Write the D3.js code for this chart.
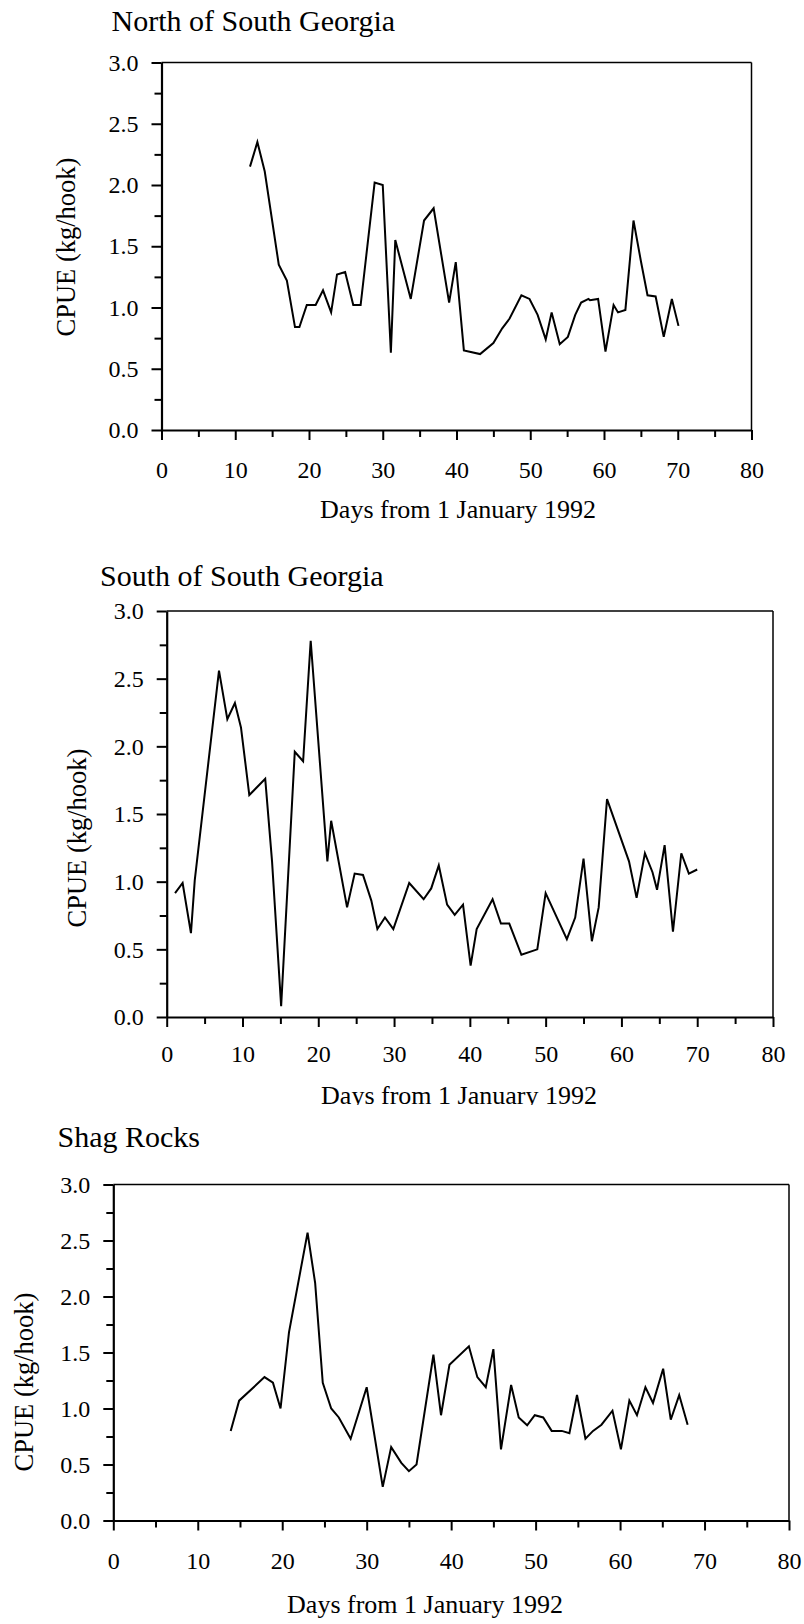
<!DOCTYPE html>
<html>
<head>
<meta charset="utf-8">
<script src="https://cdn.jsdelivr.net/npm/d3@7"></script>
<style>
  body { margin: 0; background: #fff; }
  svg { display: block; }
  text { font-family: 'Liberation Serif', 'Times New Roman', serif; fill: #000; }
</style>
</head>
<body>
<div id="chart"></div>
<script>
// CPUE by day
let northData = [
  [12, 2.15], [13, 2.35], [14, 2.11], [15.9, 1.35], [17, 1.22], [18.1, 0.84], [18.7, 0.84],
  [19.7, 1.02], [20.9, 1.02], [21.9, 1.14], [23, 0.96], [23.8, 1.27], [24.9, 1.29],
  [26, 1.02], [27, 1.02], [28.9, 2.02], [30, 2.0], [31.1, 0.63], [31.7, 1.55],
  [33.8, 1.07], [35.6, 1.71], [36.9, 1.81], [39, 1.04], [39.9, 1.37], [41, 0.65],
  [43.2, 0.62], [45, 0.71], [46.2, 0.83], [47.2, 0.91], [48.8, 1.1], [49.9, 1.07],
  [51, 0.94], [52.1, 0.74], [52.9, 0.96], [54, 0.7], [55.1, 0.76], [56.1, 0.94],
  [56.9, 1.04], [57.9, 1.07], [58.1, 1.06], [59.2, 1.07], [60.2, 0.64], [61.3, 1.02],
  [61.9, 0.96], [62.9, 0.98], [64, 1.71], [65, 1.38], [65.9, 1.1], [67, 1.09],
  [68.1, 0.76], [69.2, 1.07], [70.1, 0.85]
]

let southData = [
  [1.1, 0.915], [2.1, 0.99], [3.2, 0.62], [3.7, 1.01], [6.9, 2.56], [8, 2.2], [9, 2.32],
  [9.8, 2.14], [10.9, 1.64], [13, 1.76], [13.9, 1.15], [15.1, 0.08], [16.9, 1.96],
  [18, 1.89], [19, 2.78], [21.2, 1.15], [21.7, 1.45], [23.8, 0.81], [24.8, 1.06],
  [25.9, 1.05], [27, 0.86], [27.8, 0.65], [28.8, 0.735], [29.9, 0.65], [32, 0.99],
  [33.9, 0.87], [34.9, 0.95], [35.9, 1.12], [37, 0.83], [38, 0.755], [39.1, 0.83],
  [40.1, 0.38], [40.9, 0.65], [43, 0.87], [44.1, 0.69], [45.2, 0.69], [46.8, 0.46],
  [48.9, 0.5], [50, 0.915], [52.8, 0.575], [53.9, 0.735], [55, 1.17], [56.1, 0.56],
  [57, 0.81], [58.1, 1.61], [61, 1.15], [62, 0.88], [63.1, 1.21], [64.1, 1.07],
  [64.7, 0.94], [65.7, 1.27], [66.8, 0.63], [67.9, 1.21], [68.9, 1.06], [70, 1.09]
]

let shagData = [
  [13.9, 0.8], [14.9, 1.07], [17.9, 1.28], [18.9, 1.23], [19.8, 1.0], [20.8, 1.68],
  [23, 2.57], [23.9, 2.12], [24.8, 1.23], [25.8, 1.0], [26.7, 0.92], [28.1, 0.73],
  [30, 1.19], [31.9, 0.3], [32.9, 0.655], [34.1, 0.515], [35, 0.44], [35.9, 0.5],
  [37.9, 1.48], [38.8, 0.94], [39.8, 1.39], [42.1, 1.555], [43.1, 1.28], [44.1, 1.19],
  [45, 1.53], [45.9, 0.635], [47.1, 1.21], [48, 0.92], [49, 0.85], [49.9, 0.94],
  [50.9, 0.92], [51.9, 0.8], [53.1, 0.8], [54, 0.78], [54.9, 1.12], [55.9, 0.73],
  [56.8, 0.8], [57.8, 0.855], [59.1, 0.98], [60.1, 0.635], [61.1, 1.07], [62, 0.94],
  [63, 1.19], [63.9, 1.05], [65.1, 1.355], [66, 0.9], [67, 1.12], [68, 0.855]
]

let titles = ['North of South Georgia', 'South of South Georgia', 'Shag Rocks']
let xTicks = [0, 10, 20, 30, 40, 50, 60, 70, 80]
let xMinorTicks = [5, 15, 25, 35, 45, 55, 65, 75]
let yTicks = [0, 0.5, 1, 1.5, 2, 2.5, 3]
let yMinorTicks = [0.25, 0.75, 1.25, 1.75, 2.25, 2.75]
let xLabel = 'Days from 1 January 1992'
let yLabel = 'CPUE (kg/hook)'

// each panel was pasted in at its own size, so each gets its own box
let panels = [
  { data: northData, title: titles[0], left: 161.5, right: 751.5, top: 62.5, bottom: 430,
    titleX: 111.5, titleY: 31, yLabX: 75, yLabY: 247, xTickPad: 21, xLabX: 458, xLabY: 518, clipY: null },
  { data: southData, title: titles[1], left: 166.7, right: 773, top: 611, bottom: 1017,
    titleX: 100, titleY: 586, yLabX: 86, yLabY: 838, xTickPad: 18, xLabX: 459, xLabY: 1104, clipY: 1105 },
  { data: shagData, title: titles[2], left: 113.3, right: 789, top: 1184.5, bottom: 1520.5,
    titleX: 57.5, titleY: 1147, yLabX: 33, yLabY: 1382, xTickPad: 21, xLabX: 425, xLabY: 1613, clipY: null }
]

let svg = d3
  .select('#chart')
  .append('svg')
  .attr('width', 804)
  .attr('height', 1624)

svg.append('rect').attr('width', 804).attr('height', 1624).attr('fill', '#fff')

panels.forEach(function(p, i) {
  var xPositionScale = d3.scaleLinear().domain([0, 80]).range([p.left, p.right])
  var yPositionScale = d3.scaleLinear().domain([0, 3]).range([p.bottom, p.top])

  var g = svg.append('g')

  // thin frame on top and right
  g.append('line')
    .attr('x1', p.left).attr('x2', p.right)
    .attr('y1', p.top).attr('y2', p.top)
    .attr('stroke', '#000').attr('stroke-width', 1.5)
  g.append('line')
    .attr('x1', p.right).attr('x2', p.right)
    .attr('y1', p.top).attr('y2', p.bottom)
    .attr('stroke', '#000').attr('stroke-width', 1.5)

  // minor ticks
  var yMinor = g.append('g')
    .attr('transform', 'translate(' + p.left + ',0)')
    .call(d3.axisLeft(yPositionScale).tickValues(yMinorTicks).tickSize(7).tickFormat(''))
  var xMinor = g.append('g')
    .attr('transform', 'translate(0,' + p.bottom + ')')
    .call(d3.axisBottom(xPositionScale).tickValues(xMinorTicks).tickSize(7).tickFormat(''))
  yMinor.select('.domain').remove()
  xMinor.select('.domain').remove()

  var yAxis = d3.axisLeft(yPositionScale)
    .tickValues(yTicks)
    .tickSize(10)
    .tickSizeOuter(0)
    .tickPadding(13)
    .tickFormat(d3.format('.1f'))
  g.append('g')
    .attr('class', 'axis')
    .attr('transform', 'translate(' + p.left + ',0)')
    .call(yAxis)

  var xAxis = d3.axisBottom(xPositionScale)
    .tickValues(xTicks)
    .tickSize(10)
    .tickSizeOuter(0)
    .tickPadding(p.xTickPad)
    .tickFormat(d3.format('d'))
  g.append('g')
    .attr('class', 'axis')
    .attr('transform', 'translate(0,' + p.bottom + ')')
    .call(xAxis)

  g.selectAll('.tick line').attr('stroke', '#000').attr('stroke-width', 2)
  g.selectAll('.domain').attr('stroke', '#000').attr('stroke-width', 2.2)
  g.selectAll('.axis text')
    .attr('font-family', "'Liberation Serif', 'Times New Roman', serif")
    .attr('font-size', 24)
    .attr('fill', '#000')

  var line = d3.line()
    .x(function(d) { return xPositionScale(d[0]) })
    .y(function(d) { return yPositionScale(d[1]) })

  g.append('path')
    .datum(p.data)
    .attr('d', line)
    .attr('fill', 'none')
    .attr('stroke', '#000')
    .attr('stroke-width', 2)

  g.append('text')
    .attr('x', p.titleX)
    .attr('y', p.titleY)
    .attr('font-size', 30)
    .text(p.title)

  g.append('text')
    .attr('transform', 'translate(' + p.yLabX + ',' + p.yLabY + ') rotate(-90)')
    .attr('text-anchor', 'middle')
    .attr('font-size', 26.5)
    .text(yLabel)

  var xLab = g.append('text')
    .attr('x', p.xLabX)
    .attr('y', p.xLabY)
    .attr('text-anchor', 'middle')
    .attr('font-size', 26)
    .text(xLabel)

  // the middle label is cut off by the panel pasted below it
  if (p.clipY) {
    svg.append('clipPath')
      .attr('id', 'cut' + i)
      .append('rect')
      .attr('x', 0).attr('y', 0)
      .attr('width', 804).attr('height', p.clipY)
    xLab.attr('clip-path', 'url(#cut' + i + ')')
  }
})
</script>
</body>
</html>
